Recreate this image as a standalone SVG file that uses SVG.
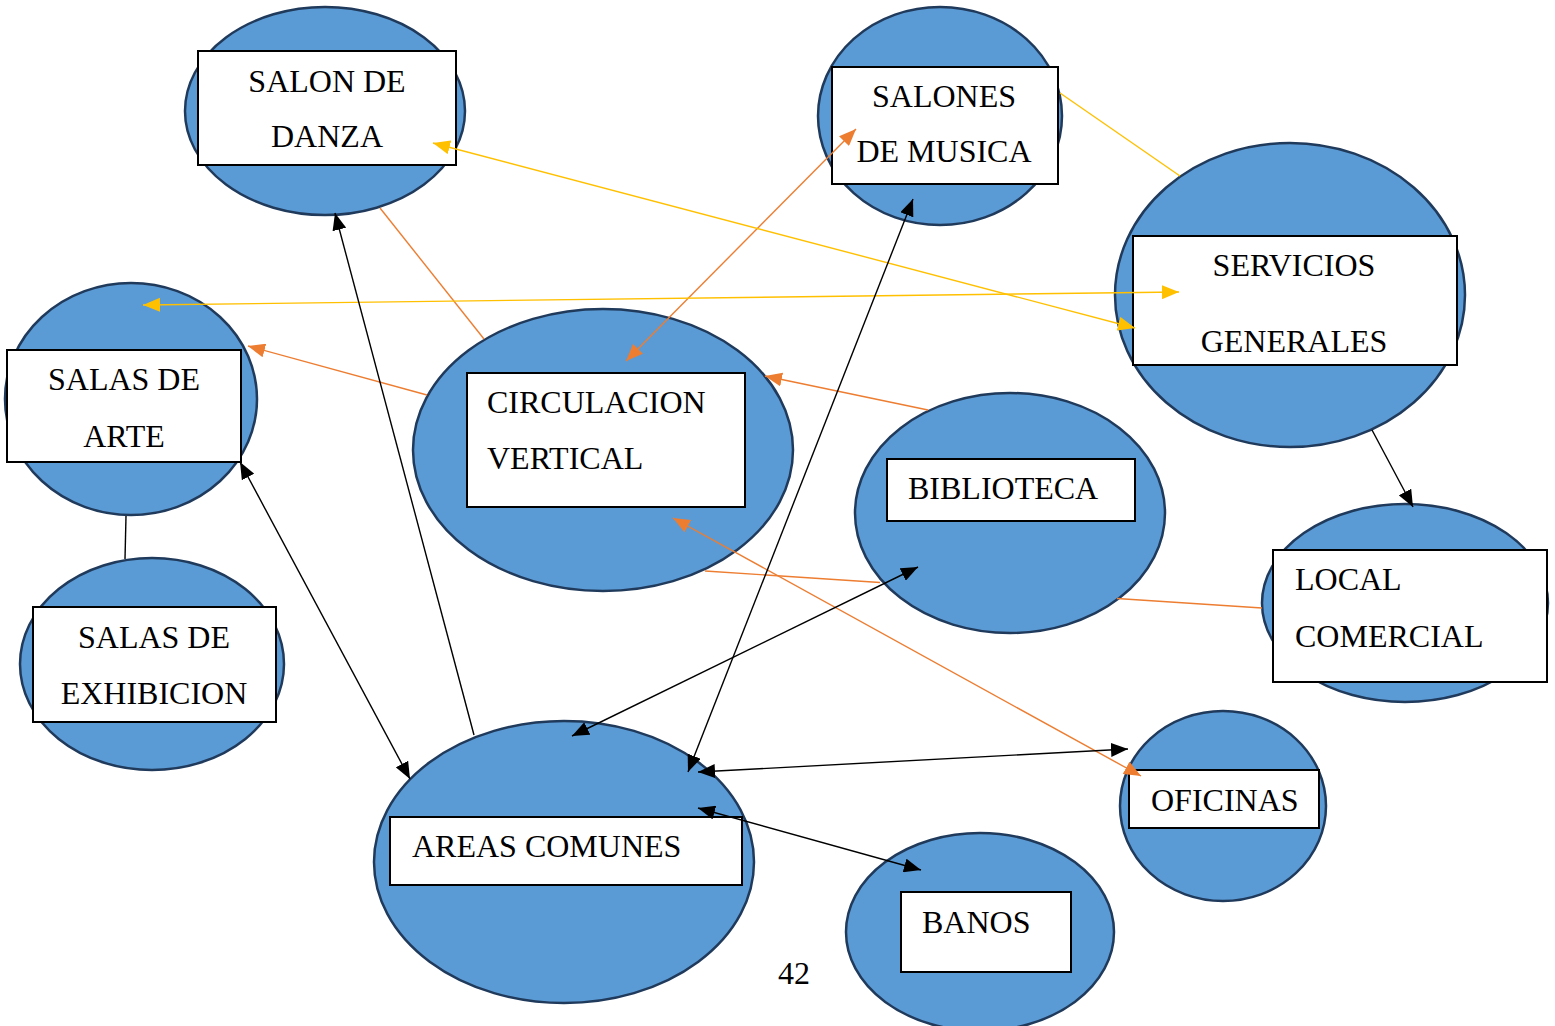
<svg xmlns="http://www.w3.org/2000/svg" width="1555" height="1026" viewBox="0 0 1555 1026">
<style>
.ell{fill:#5B9BD5;stroke:#203A5C;stroke-width:2.5}
.box{fill:#fff;stroke:#000;stroke-width:2}
.t{font-family:"Liberation Serif","Times New Roman",serif;font-size:32px;fill:#000}
.m{text-anchor:middle}
.k{stroke:#000;stroke-width:1.4;fill:none}
.o{stroke:#ED7D31;stroke-width:1.4;fill:none}
.y{stroke:#FFC000;stroke-width:1.4;fill:none}
</style>
<defs>
<marker id="ak" markerUnits="userSpaceOnUse" markerWidth="18" markerHeight="14" refX="17" refY="7" orient="auto-start-reverse"><path d="M0,0 L17,7 L0,14 z" fill="#000"/></marker>
<marker id="ao" markerUnits="userSpaceOnUse" markerWidth="18" markerHeight="14" refX="17" refY="7" orient="auto-start-reverse"><path d="M0,0 L17,7 L0,14 z" fill="#ED7D31"/></marker>
<marker id="ay" markerUnits="userSpaceOnUse" markerWidth="18" markerHeight="14" refX="17" refY="7" orient="auto-start-reverse"><path d="M0,0 L17,7 L0,14 z" fill="#FFC000"/></marker>
</defs>
<rect width="1555" height="1026" fill="#fff"/>
<g id="salon-danza"><ellipse class="ell" cx="325" cy="111" rx="140" ry="104"/><rect class="box" x="198" y="51" width="258" height="114"/><text class="t m" x="327" y="92">SALON DE</text><text class="t m" x="327" y="147">DANZA</text></g>
<g id="salones-musica"><ellipse class="ell" cx="940" cy="116" rx="122" ry="109"/><rect class="box" x="832" y="67" width="226" height="117"/><text class="t m" x="944" y="107">SALONES</text><text class="t m" x="944" y="162">DE MUSICA</text></g>
<g id="servicios-generales"><ellipse class="ell" cx="1290" cy="295" rx="175" ry="152"/><rect class="box" x="1133" y="236" width="324" height="129"/><text class="t m" x="1294" y="276">SERVICIOS</text><text class="t m" x="1294" y="352">GENERALES</text></g>
<g id="salas-arte"><ellipse class="ell" cx="131" cy="399" rx="126" ry="116"/><rect class="box" x="7" y="350" width="234" height="112"/><text class="t m" x="124" y="390">SALAS DE</text><text class="t m" x="124" y="447">ARTE</text></g>
<g id="circulacion-vertical"><ellipse class="ell" cx="603" cy="450" rx="190" ry="141"/><rect class="box" x="467" y="373" width="278" height="134"/><text class="t" x="487" y="413">CIRCULACION</text><text class="t" x="487" y="469">VERTICAL</text></g>
<g id="biblioteca"><ellipse class="ell" cx="1010" cy="513" rx="155" ry="120"/><rect class="box" x="887" y="459" width="248" height="62"/><text class="t" x="908" y="499">BIBLIOTECA</text></g>
<g id="local-comercial"><ellipse class="ell" cx="1405" cy="603" rx="143" ry="99"/><rect class="box" x="1273" y="550" width="274" height="132"/><text class="t" x="1295" y="590">LOCAL</text><text class="t" x="1295" y="647">COMERCIAL</text></g>
<g id="salas-exhibicion"><ellipse class="ell" cx="152" cy="664" rx="132" ry="106"/><rect class="box" x="33" y="607" width="243" height="115"/><text class="t m" x="154" y="648">SALAS DE</text><text class="t m" x="154" y="704">EXHIBICION</text></g>
<g id="areas-comunes"><ellipse class="ell" cx="564" cy="862" rx="190" ry="141"/><rect class="box" x="390" y="817" width="352" height="68"/><text class="t" x="412" y="857">AREAS COMUNES</text></g>
<g id="oficinas"><ellipse class="ell" cx="1223" cy="806" rx="103" ry="95"/><rect class="box" x="1129" y="770" width="190" height="58"/><text class="t" x="1151" y="811">OFICINAS</text></g>
<g id="banos"><ellipse class="ell" cx="980" cy="932" rx="134" ry="99"/><rect class="box" x="901" y="892" width="170" height="80"/><text class="t" x="922" y="933">BANOS</text></g>
<g id="connectors">
<line class="o" x1="380" y1="208" x2="484" y2="339"/>
<line class="o" x1="427" y1="395" x2="248" y2="346" marker-end="url(#ao)"/>
<line class="o" x1="626" y1="361" x2="856" y2="129" marker-start="url(#ao)" marker-end="url(#ao)"/>
<line class="o" x1="928" y1="410" x2="765" y2="376" marker-end="url(#ao)"/>
<line class="o" x1="673" y1="518" x2="1141" y2="776" marker-start="url(#ao)" marker-end="url(#ao)"/>
<path class="o" d="M705,571 L880,582.5 M1117,598.5 L1262,608"/>
<line class="y" x1="1060" y1="93" x2="1180" y2="176"/>
<line class="y" x1="143" y1="305" x2="1179" y2="292" marker-start="url(#ay)" marker-end="url(#ay)"/>
<line class="y" x1="433" y1="143" x2="1135" y2="328" marker-start="url(#ay)" marker-end="url(#ay)"/>
<line class="k" x1="240" y1="462" x2="410" y2="779" marker-start="url(#ak)" marker-end="url(#ak)"/>
<line class="k" x1="126" y1="516" x2="125" y2="559"/>
<line class="k" x1="474" y1="735" x2="335" y2="213" marker-end="url(#ak)"/>
<line class="k" x1="688" y1="772" x2="913" y2="199" marker-start="url(#ak)" marker-end="url(#ak)"/>
<line class="k" x1="572" y1="736" x2="918" y2="567" marker-start="url(#ak)" marker-end="url(#ak)"/>
<line class="k" x1="698" y1="772" x2="1128" y2="749" marker-start="url(#ak)" marker-end="url(#ak)"/>
<line class="k" x1="698" y1="808" x2="921" y2="870" marker-start="url(#ak)" marker-end="url(#ak)"/>
<line class="k" x1="1372" y1="430" x2="1413" y2="507" marker-end="url(#ak)"/>
</g>
<text class="t m" x="794" y="984">42</text>
</svg>
